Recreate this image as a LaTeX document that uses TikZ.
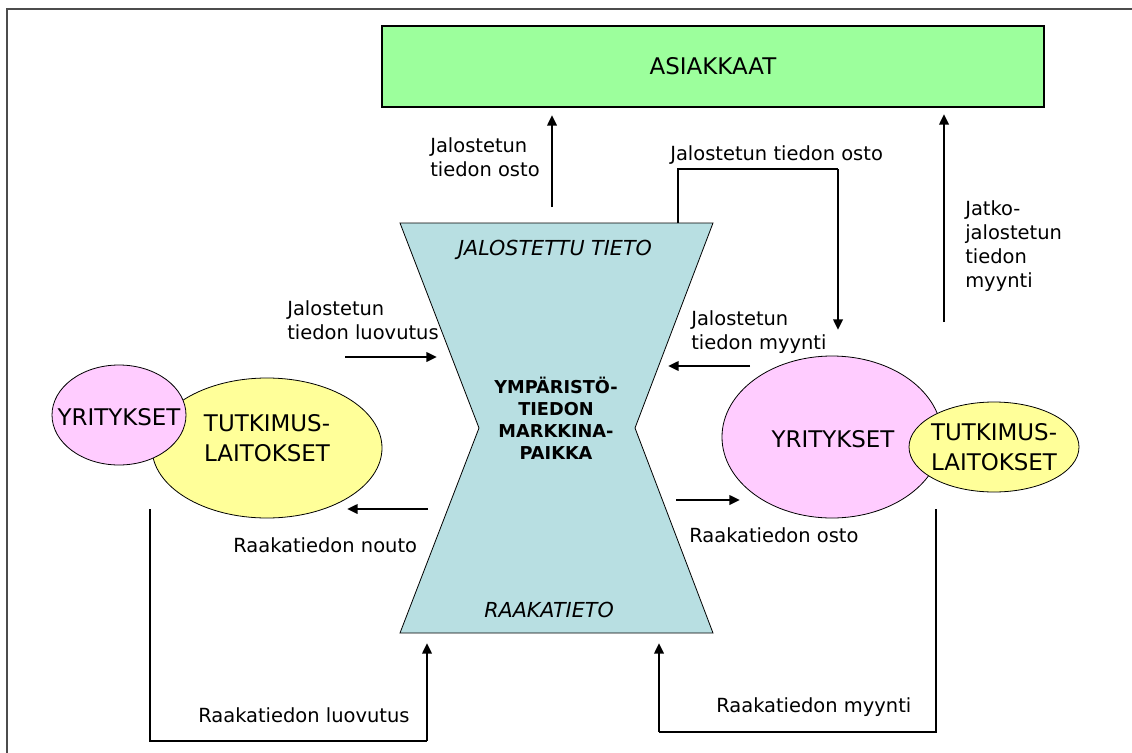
\documentclass[tikz,border=0pt]{standalone}
\usepackage{fontspec}
\setmainfont{DejaVu Sans}
\usetikzlibrary{arrows.meta}

\definecolor{asiakasvihrea}{HTML}{9CFF9C}
\definecolor{torisininen}{HTML}{B8DFE2}
\definecolor{yrityspinkki}{HTML}{FFCCFF}
\definecolor{tutkkeltainen}{HTML}{FFFF99}

\tikzset{
  virta/.style={line width=1.9pt, -{Triangle[length=8pt, width=7pt]}},
  yhteys/.style={line width=0.9pt},
  reuna/.style={line width=0.6pt},
  teksti/.style={inner sep=0pt, align=left, anchor=north west, font=\fontsize{14.6}{18.2}\selectfont},
  isoteksti/.style={inner sep=0pt, align=center, font=\fontsize{17.2}{22.5}\selectfont}
}

\begin{document}
\begin{tikzpicture}[x=0.75pt, y=-0.75pt]
  \useasboundingbox (0,0) rectangle (1132,753);
  \draw[line width=1.5pt, black!70] (7,753) -- (7,9) -- (1132,9);

  % asiakkaat
  \node[draw, line width=0.9pt, fill=asiakasvihrea, minimum width=496.5pt, minimum height=60.75pt, isoteksti] (asiakkaat) at (713,66.5) {ASIAKKAAT};

  % markkinapaikka
  \draw[reuna, fill=torisininen] (400,223) -- (713,223) -- (635,428) -- (713,633) -- (400,633) -- (479,428) -- cycle;
  \node[inner sep=0pt, font=\fontsize{15.5}{18}\selectfont\itshape] (jalostettu) at (555,250) {JALOSTETTU TIETO};
  \node[inner sep=0pt, font=\fontsize{15.5}{18}\selectfont\itshape] (raakatieto) at (549,610) {RAAKATIETO};
  \node[inner sep=0pt, align=center, font=\fontsize{13.3}{16.5}\selectfont\bfseries] (tori) at (556,418) {YMPÄRISTÖ-\\TIEDON\\MARKKINA-\\PAIKKA};

  % vasen puoli
  \draw[reuna, fill=tutkkeltainen] (267,448) ellipse [x radius=86.25pt, y radius=52.5pt];
  \draw[reuna, fill=yrityspinkki] (119,415) ellipse [x radius=50.25pt, y radius=37.5pt];
  \node[isoteksti] (tutkimusV) at (267,438) {TUTKIMUS-\\LAITOKSET};
  \node[isoteksti] (yrityksetV) at (119,417) {YRITYKSET};

  % oikea puoli
  \draw[reuna, fill=yrityspinkki] (832,437) ellipse [x radius=82.5pt, y radius=60.75pt];
  \draw[reuna, fill=tutkkeltainen] (994,447) ellipse [x radius=63.75pt, y radius=33.75pt];
  \node[isoteksti] (yrityksetO) at (833,439) {YRITYKSET};
  \node[isoteksti] (tutkimusO) at (994,447) {TUTKIMUS-\\LAITOKSET};

  % nuolien paat
  \coordinate (A1) at (552,207);   \coordinate (A2) at (552,115);
  \coordinate (B1) at (678,223);   \coordinate (B2) at (678,169);
  \coordinate (B3) at (838,169);   \coordinate (B4) at (838,330);
  \coordinate (C1) at (944,322);   \coordinate (C2) at (944,114);
  \coordinate (D1) at (345,357);   \coordinate (D2) at (437,357);
  \coordinate (E1) at (750,366);   \coordinate (E2) at (668,366);
  \coordinate (F1) at (428,509);   \coordinate (F2) at (347,509);
  \coordinate (G1) at (676,500);   \coordinate (G2) at (740,500);
  \coordinate (H1) at (150,509);   \coordinate (H2) at (150,741);
  \coordinate (H3) at (427,741);   \coordinate (H4) at (427,643);
  \coordinate (K1) at (936,509);   \coordinate (K2) at (936,732);
  \coordinate (K3) at (659,732);   \coordinate (K4) at (659,643);

  \draw[virta] (A1) to (A2);
  \draw[yhteys] (B1) -- (B2) -- (B3);
  \draw[virta] (B3) to (B4);
  \draw[virta] (C1) to (C2);
  \draw[virta] (D1) to (D2);
  \draw[virta] (E1) to (E2);
  \draw[virta] (F1) to (F2);
  \draw[virta] (G1) to (G2);
  \draw[yhteys] (H1) -- (H2) -- (H3);
  \draw[virta] (H3) to (H4);
  \draw[yhteys] (K1) -- (K2) -- (K3);
  \draw[virta] (K3) to (K4);

  % tekstit
  \node[teksti] (ostoV) at (430,137) {Jalostetun\\tiedon osto};
  \node[teksti] (ostoO) at (670,145) {Jalostetun tiedon osto};
  \node[teksti] (jatko) at (965,200) {Jatko-\\jalostetun\\tiedon\\myynti};
  \node[teksti] (luovutus) at (287,300) {Jalostetun\\tiedon luovutus};
  \node[teksti] (myynti) at (691,310) {Jalostetun\\tiedon myynti};
  \node[teksti] (nouto) at (233,537) {Raakatiedon nouto};
  \node[teksti] (raakaosto) at (689,527) {Raakatiedon osto};
  \node[teksti] (raakaluov) at (198,707) {Raakatiedon luovutus};
  \node[teksti] (raakamyynti) at (716,697) {Raakatiedon myynti};
\end{tikzpicture}
\end{document}
